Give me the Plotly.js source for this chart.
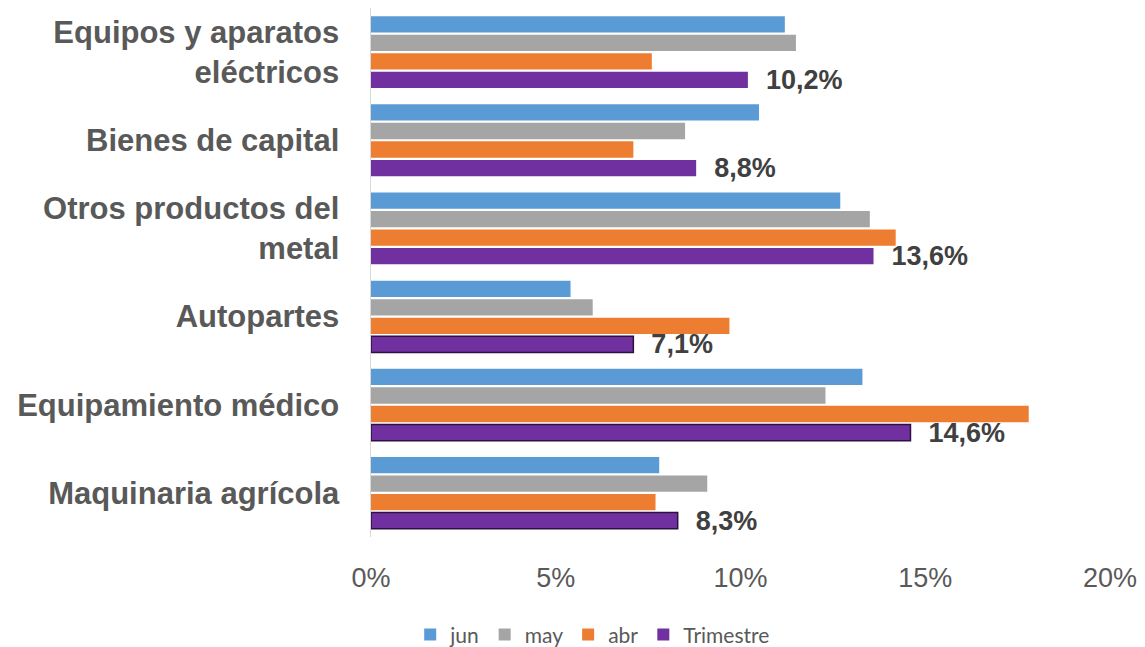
<!DOCTYPE html>
<html>
<head>
<meta charset="utf-8">
<script src="https://cdn.plot.ly/plotly-3.0.1.min.js"></script>
<style>html,body{margin:0;padding:0;background:#fff;}#chart{width:1145px;height:647px;}</style>
</head>
<body>
<div id="chart"></div>
<script>
const categories = ["Equipos y aparatos<br>eléctricos", "Bienes de capital", "Otros productos del<br>metal", "Autopartes", "Equipamiento médico", "Maquinaria agrícola"];
const jun = [11.2, 10.5, 12.7, 5.4, 13.3, 7.8];
const may = [11.5, 8.5, 13.5, 6.0, 12.3, 9.1];
const abr = [7.6, 7.1, 14.2, 9.7, 17.8, 7.7];
const trimestre = [10.2, 8.8, 13.6, 7.1, 14.6, 8.3];
const xTicks = [0, 5, 10, 15, 20];

const trimLabels = trimestre.map(v => "\u00a0\u00a0" + v.toFixed(1).replace(".", ",") + "%");
const trimLineW = [0, 0, 0, 1.5, 1.5, 1.5];

const common = {type: "bar", orientation: "h", y: categories, hoverinfo: "x+name"};
const traces = [
  Object.assign({}, common, {name: "jun", x: jun, marker: {color: "#5B9BD5"}}),
  Object.assign({}, common, {name: "may", x: may, marker: {color: "#A5A5A5"}}),
  Object.assign({}, common, {name: "abr", x: abr, marker: {color: "#ED7D31"}}),
  Object.assign({}, common, {name: "Trimestre", x: trimestre,
    marker: {color: "#7030A0", line: {color: "#2B1040", width: trimLineW}},
    text: trimLabels, textposition: "outside", constraintext: "none", cliponaxis: false,
    textfont: {family: "Liberation Sans, Arial, sans-serif", size: 27, weight: "bold", color: "#404040"}})
];

const layout = {
  width: 1145, height: 647,
  margin: {l: 371, r: 35, t: 8, b: 110, autoexpand: false},
  paper_bgcolor: "#ffffff", plot_bgcolor: "#ffffff",
  barmode: "group", bargap: 0.16, bargroupgap: 0.12,
  showlegend: true,
  legend: {orientation: "h", x: 0.3, xanchor: "center", y: -0.185, yanchor: "middle",
    font: {family: "Lato, sans-serif", size: 21, color: "#595959"}, traceorder: "normal"},
  xaxis: {range: [0, 20], tickvals: xTicks, ticktext: xTicks.map(v => v + "%"),
    showgrid: false, zeroline: false, showline: false, ticks: "",
    ticklabelstandoff: 22,
    tickfont: {family: "Liberation Sans, Arial, sans-serif", size: 27, color: "#595959"}},
  yaxis: {autorange: "reversed", type: "category", showgrid: false, zeroline: false,
    showline: true, linecolor: "#D9D9D9", linewidth: 1.5, ticks: "",
    ticklabelstandoff: 24,
    tickfont: {family: "Liberation Sans, Arial, sans-serif", size: 31, weight: "bold", color: "#595959"}}
};

Plotly.newPlot("chart", traces, layout, {staticPlot: true});
</script>
</body>
</html>
